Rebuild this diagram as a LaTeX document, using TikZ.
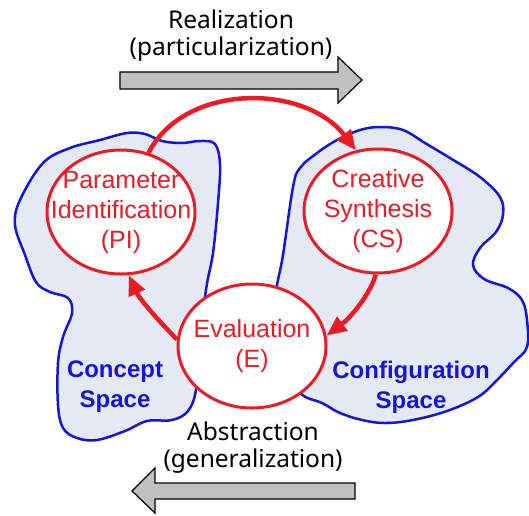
\documentclass[tikz,border=0pt]{standalone}
\usepackage{fontspec}
\setmainfont{Liberation Sans}
\newfontfamily\comicfont{Noto Sans}
\usetikzlibrary{shapes.geometric,arrows.meta}
\definecolor{ered}{RGB}{232,28,36}
\definecolor{eblue}{RGB}{20,20,220}
\definecolor{blobfill}{RGB}{228,233,244}
\definecolor{arrgray}{RGB}{192,192,192}
\begin{document}
\begin{tikzpicture}[x=1pt,y=-1pt,
  stage/.style={draw=ered, line width=3pt, fill=white, ellipse, minimum width=148pt, minimum height=124pt, inner sep=0pt},
  stagetext/.style={text=ered, align=center, font=\fontsize{25}{30}\selectfont},
  spacetext/.style={text=eblue, align=center, font=\fontsize{24}{30}\selectfont\bfseries},
  blob/.style={draw=eblue, line width=2.5pt, fill=blobfill},
  flow/.style={draw=ered, line width=4.5pt, -{Triangle[length=20pt,width=17pt]}},
  blockarrow/.style={draw=black, line width=1.2pt, fill=arrgray, line join=miter},
  caption/.style={font=\comicfont\fontsize{24.5}{27}\selectfont, align=center}
]
\useasboundingbox[fill=white] (0,0) rectangle (529,515);

% spaces
\draw[blob] plot[smooth cycle, tension=0.6] coordinates {
 (43,163) (70,148) (100,140) (127,133) (145,134) (162,141) (182,143) (200,141)
 (215,144) (220,165) (218,203) (213,253) (206,290) (200,347) (196,390) (188,411)
 (172,420) (147,421) (125,431) (97,440) (77,438) (63,428) (58,405) (58,363)
 (63,337) (72,313) (68,298) (50,292) (36,282) (25,255) (15,225) (20,200)};
\draw[blob] plot[smooth cycle, tension=0.6] coordinates {
 (293,187) (300,168) (317,153) (337,140) (360,130) (380,127) (403,130) (425,143)
 (450,158) (480,177) (500,197) (503,215) (496,232) (480,248) (473,265) (484,279)
 (508,288) (522,300) (527,320) (527,347) (514,362) (497,380) (478,397) (447,411)
 (413,420) (385,423) (362,420) (340,413) (322,403) (300,393) (275,360) (275,300) (283,255)};

% stages
\node[stage] (PI) at (121,212) {};
\node[stage] (CS) at (378,211) {};
\node[stage] (E) at (252,346) {};
\node[stagetext] (PIt) at (PI) {Parameter\\Identification\\(PI)};
\node[stagetext] (CSt) at (CS) {Creative\\Synthesis\\(CS)};
\node[stagetext] (Et) at (E) {Evaluation\\(E)};

\node[spacetext] (concept) at (115,387) {Concept\\Space};
\node[spacetext] (config) at (411,387) {Configuration\\Space};

% cycle
\draw[flow] (PI.65) .. controls (185,82) and (305,84) .. (CS.110);
\draw[flow] (CS.268) .. controls (370,295) and (350,318) .. (E.8);
\draw[flow] (E.175) .. controls (160,322) and (140,300) .. (PI.277);

% realization / abstraction
\node[caption] (real) at (231,36) {Realization\\(particularization)};
\node[caption] (abs) at (253,448) {Abstraction\\(generalization)};
\draw[blockarrow] (120,72) -- (338,72) -- (338,57) -- (362,80) -- (338,103) -- (338,89) -- (120,89) -- cycle;
\draw[blockarrow] (355,483) -- (155,483) -- (155,468) -- (132,491) -- (155,513) -- (155,499) -- (355,499) -- cycle;
\end{tikzpicture}
\end{document}
